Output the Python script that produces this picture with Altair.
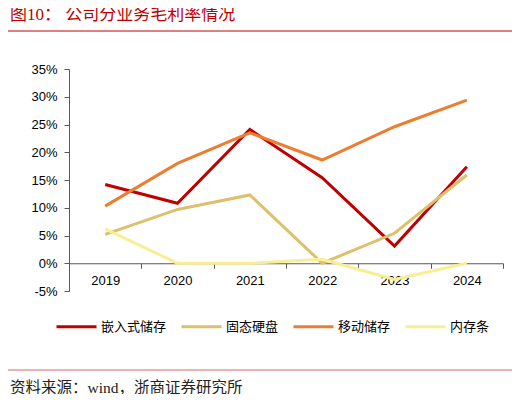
import pandas as pd
import altair as alt

years = ["2019", "2020", "2021", "2022", "2023", "2024"]
series = ["嵌入式储存", "固态硬盘", "移动储存", "内存条"]
colors = ["#C00000", "#DDC06D", "#ED7D31", "#FAEE93"]

embedded = [14.2, 10.8, 24.1, 15.4, 3.1, 17.4]
ssd = [5.2, 9.7, 12.3, 0.0, 5.4, 15.9]
mobile = [10.3, 18.0, 23.5, 18.6, 24.6, 29.4]
dram = [6.2, 0.0, 0.0, 0.7, -2.9, 0.0]

y_ticks = [-0.05, 0, 0.05, 0.10, 0.15, 0.20, 0.25, 0.30, 0.35]

title_text = "图10： 公司分业务毛利率情况"
source_text = "资料来源：wind，浙商证券研究所"

rows = []
for name, vals in zip(series, [embedded, ssd, mobile, dram]):
    for yr, v in zip(years, vals):
        rows.append({"year": yr, "series": name, "value": v / 100})
df = pd.DataFrame(rows)

W, H = 434, 222
FONT = "Liberation Sans"
CJK = "Noto Sans CJK SC"
SERIF = "Liberation Serif, Noto Sans CJK SC"

lines = alt.Chart(df).mark_line(strokeWidth=3).encode(
    x=alt.X("year:N", title=None,
            scale=alt.Scale(type="band", paddingInner=0, paddingOuter=0),
            axis=alt.Axis(labelAngle=0, tickBand="extent", offset=-H * 5 / 40,
                          domainColor="#595959", tickColor="#595959", tickSize=5,
                          labelPadding=6, labelFontSize=13, labelColor="#000000",
                          labelFont=FONT, grid=False)),
    y=alt.Y("value:Q", title=None,
            scale=alt.Scale(domain=[-0.05, 0.35], nice=False, zero=False),
            axis=alt.Axis(values=y_ticks, labelExpr="round(datum.value*100) + '%'",
                          domainColor="#595959", tickColor="#595959", tickSize=5,
                          labelPadding=7, labelFontSize=13, labelColor="#000000",
                          labelFont=FONT, grid=False)),
    color=alt.Color("series:N", sort=series,
                    scale=alt.Scale(domain=series, range=colors),
                    legend=alt.Legend(title=None, orient="none", direction="horizontal",
                                      legendX=-14, legendY=236, symbolType="stroke",
                                      symbolSize=1600, symbolStrokeWidth=3,
                                      labelOffset=3, columnPadding=8,
                                      labelFont=CJK, labelFontSize=13,
                                      labelColor="#000000")),
)

title = alt.Chart(pd.DataFrame({"t": [title_text]})).mark_text(
    align="left", baseline="middle", font=SERIF, fontSize=17, color="#C00000"
).encode(x=alt.value(-59), y=alt.value(-54), text="t:N")

source = alt.Chart(pd.DataFrame({"t": [source_text]})).mark_text(
    align="left", baseline="middle", font=SERIF, fontSize=15.5, color="#222222"
).encode(x=alt.value(-59), y=alt.value(319), text="t:N")

top_rule = alt.Chart(pd.DataFrame({"a": [0]})).mark_rule(
    color="#C00000", strokeWidth=1.2
).encode(x=alt.value(-61), x2=alt.value(443), y=alt.value(-38))

bottom_rule = alt.Chart(pd.DataFrame({"a": [0]})).mark_rule(
    color="#E06666", strokeWidth=1.2
).encode(x=alt.value(-61), x2=alt.value(443), y=alt.value(301))

chart = alt.layer(lines, title, source, top_rule, bottom_rule).properties(
    width=W, height=H,
    autosize=alt.AutoSizeParams(type="none"),
    padding={"left": 61, "top": 61, "right": 9, "bottom": 103},
).configure_view(stroke=None)

chart.save("out.html", embed_options={"renderer": "svg", "actions": False})
